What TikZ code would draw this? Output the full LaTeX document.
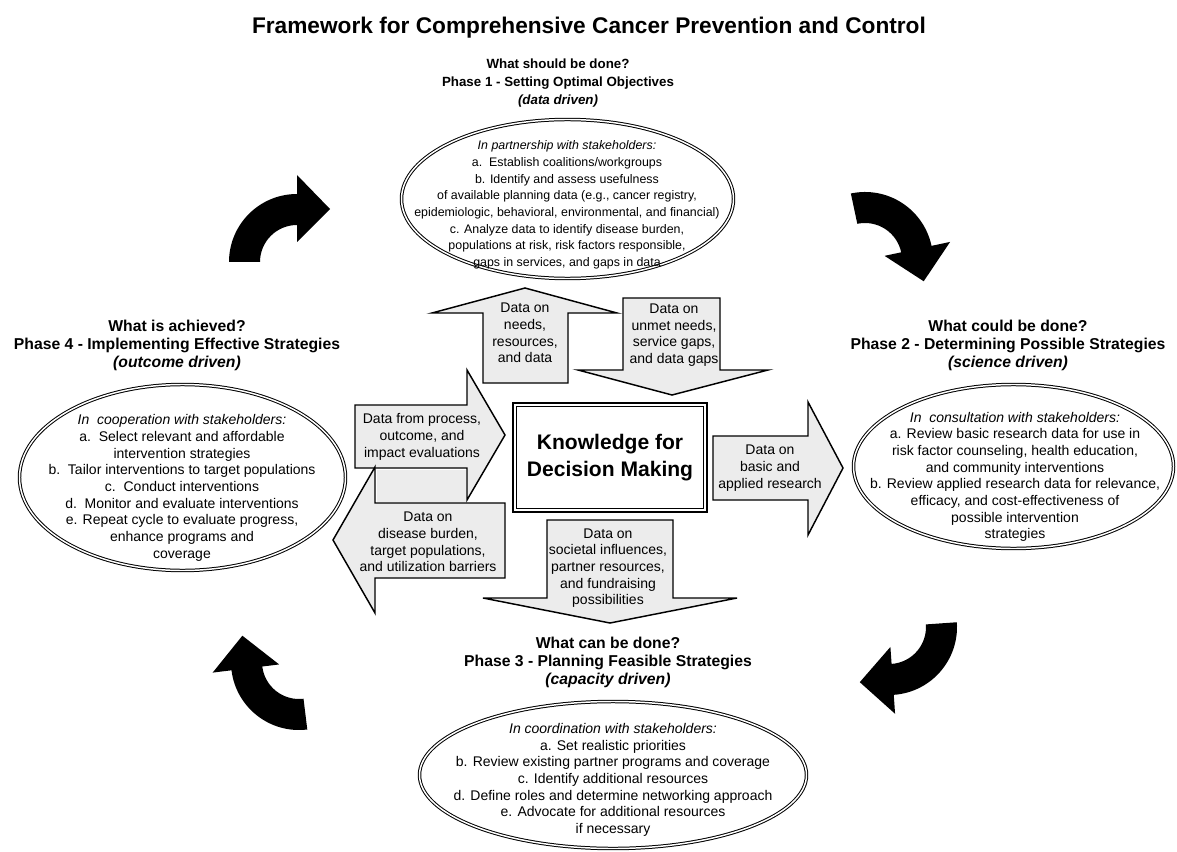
\documentclass[tikz,border=0pt]{standalone}
\usepackage{fontspec}
\setmainfont{Liberation Sans}
\definecolor{arrowgray}{RGB}{236,236,236}
\begin{document}
\begin{tikzpicture}[x=0.75pt,y=-0.75pt,
  dataarrow/.style={fill=arrowgray, draw=black, line width=1.1pt, line join=miter},
  oval/.style={draw=black, double=white, double distance=1.1pt, line width=0.75pt},
  heading/.style={align=center, inner sep=0pt, font=\fontsize{11.8}{13.5}\selectfont\bfseries},
  headingsmall/.style={align=center, inner sep=0pt, font=\fontsize{10}{13.5}\selectfont\bfseries},
  body/.style={align=center, inner sep=0pt, font=\fontsize{10.5}{12.5}\selectfont},
  bodysmall/.style={align=center, inner sep=0pt, font=\fontsize{9.3}{12.5}\selectfont},
  curvedarrow/.pic={\fill[black] (-68,0) arc[start angle=180,end angle=270,radius=68] -- (0,-87) -- (33,-53) -- (0,-20) -- (0,-37) arc[start angle=270,end angle=180,radius=37] -- cycle;}
]
\useasboundingbox[fill=white] (0,0) rectangle (1177,852);

% title
\node[inner sep=0pt, font=\fontsize{17}{20}\selectfont\bfseries] (title) at (589,28) {Framework for Comprehensive Cancer Prevention and Control};

% headings
\node[headingsmall] (h1) at (558,83) {What should be done?\\Phase 1 - Setting Optimal Objectives\\{\itshape (data driven)}};
\node[heading] (h2) at (1008,345) {What could be done?\\Phase 2 - Determining Possible Strategies\\{\itshape (science driven)}};
\node[heading] (h3) at (608,662) {What can be done?\\Phase 3 - Planning Feasible Strategies\\{\itshape (capacity driven)}};
\node[heading] (h4) at (177,345) {What is achieved?\\Phase 4 - Implementing Effective Strategies\\{\itshape (outcome driven)}};

% ellipses
\draw[oval] (567.5,199) ellipse [x radius=166, y radius=79.5];
\draw[oval] (182.5,477.5) ellipse [x radius=163, y radius=93];
\draw[oval] (1013.5,466.5) ellipse [x radius=160, y radius=82];
\draw[oval] (613,775) ellipse [x radius=193.5, y radius=73.5];

\node[bodysmall] (e1) at (567,205) {{\itshape In partnership with stakeholders:}\\a.\ \ Establish coalitions/workgroups\\b. Identify and assess usefulness\\of available planning data (e.g., cancer registry,\\epidemiologic, behavioral, environmental, and financial)\\c. Analyze data to identify disease burden,\\populations at risk, risk factors responsible,\\gaps in services, and gaps in data};
\node[body] (e4) at (182,488) {{\itshape In\ \ cooperation with stakeholders:}\\a.\ \ Select relevant and affordable\\intervention strategies\\b.\ \ Tailor interventions to target populations\\c.\ \ Conduct interventions\\d.\ \ Monitor and evaluate interventions\\e. Repeat cycle to evaluate progress,\\enhance programs and\\coverage};
\node[body] (e2) at (1015,477) {{\itshape In\ \ consultation with stakeholders:}\\a. Review basic research data for use in\\risk factor counseling, health education,\\and community interventions\\b. Review applied research data for relevance,\\efficacy, and cost-effectiveness of\\possible intervention\\strategies};
\node[body] (e3) at (613,780) {{\itshape In coordination with stakeholders:}\\a. Set realistic priorities\\b. Review existing partner programs and coverage\\c. Identify additional resources\\d. Define roles and determine networking approach\\e. Advocate for additional resources\\if necessary};

% block arrows
\draw[dataarrow] (483,383) -- (483,313) -- (432,313) -- (525,288) -- (617,313) -- (568,313) -- (568,383) -- cycle;
\draw[dataarrow] (623,298) -- (720,298) -- (720,370) -- (768,370) -- (672,395) -- (578,370) -- (623,370) -- cycle;
\draw[dataarrow] (355,405) -- (467,405) -- (467,370) -- (505,435) -- (467,500) -- (467,468) -- (355,468) -- cycle;
\draw[dataarrow] (505,503) -- (505,578) -- (375,578) -- (375,613) -- (333,540) -- (375,467) -- (375,503) -- cycle;
\fill[arrowgray] (376.5,469.5) rectangle (465.5,501.5);
\draw[dataarrow] (713,436) -- (808,436) -- (808,402) -- (843,468) -- (808,535) -- (808,500) -- (713,500) -- cycle;
\draw[dataarrow] (547,520) -- (673,520) -- (673,598) -- (737,598) -- (610,623) -- (483,598) -- (547,598) -- cycle;

\node[body] (a1) at (525,333) {Data on\\needs,\\resources,\\and data};
\node[body] (a2) at (674,335) {Data on\\unmet needs,\\service gaps,\\and data gaps};
\node[body] (a3) at (422,437) {Data from process,\\outcome, and\\impact evaluations};
\node[body] (a4) at (428,542) {Data on\\disease burden,\\target populations,\\and utilization barriers};
\node[body] (a5) at (770,468) {Data on\\basic and\\applied research};
\node[body] (a6) at (608,568) {Data on\\societal influences,\\partner resources,\\and fundraising\\possibilities};

% center box
\node[draw=black, fill=white, line width=1.8pt, minimum width=145.5pt, minimum height=81.75pt, align=center, font=\fontsize{15.8}{20}\selectfont\bfseries] (kdm) at (610,457.5) {Knowledge for\\Decision Making};
\draw[line width=0.8pt] ([xshift=3.6pt,yshift=-3.6pt]kdm.north west) rectangle ([xshift=-3.6pt,yshift=3.6pt]kdm.south east);

% curved cycle arrows
\pic at (297,262) {curvedarrow};
\pic[rotate=-78] at (865,260) {curvedarrow};
\pic[rotate=-176] at (889,627) {curvedarrow};
\pic[rotate=-263] at (299,662) {curvedarrow};
\end{tikzpicture}
\end{document}
